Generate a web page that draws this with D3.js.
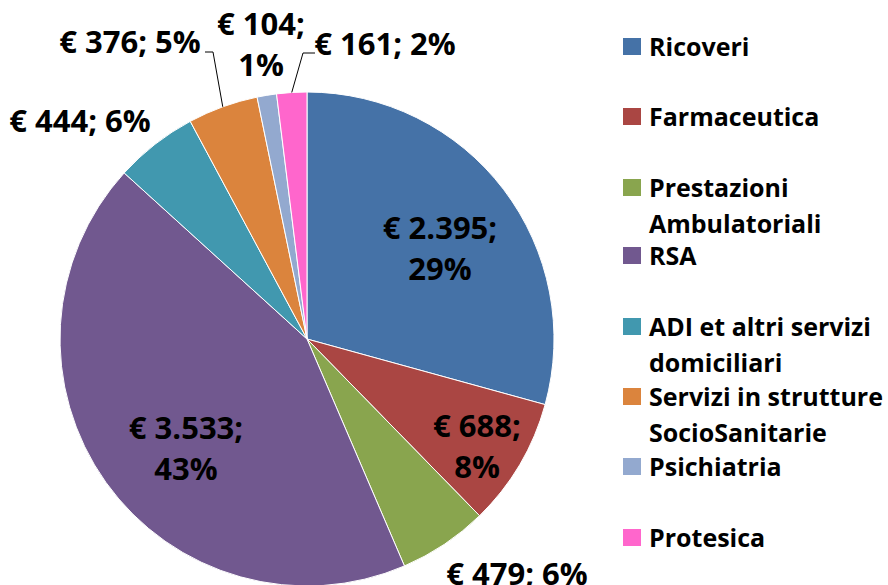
<!DOCTYPE html>
<html>
<head>
<meta charset="utf-8">
<script src="https://cdn.jsdelivr.net/npm/d3@7"></script>
<style>
  body { margin: 0; background: #fff; }
  text { font-family: "Open Sans", sans-serif; font-weight: 700; fill: #000; }
</style>
</head>
<body>
<div id="chart"></div>
<script>
// data
var categories = ["Ricoveri", "Farmaceutica", "Prestazioni Ambulatoriali", "RSA",
    "ADI et altri servizi domiciliari", "Servizi in strutture SocioSanitarie", "Psichiatria", "Protesica"];
var values = [2395, 688, 479, 3533, 444, 376, 104, 161];
var valueLabels = ["€ 2.395;", "€ 688;", "€ 479;", "€ 3.533;", "€ 444;", "€ 376;", "€ 104;", "€ 161;"];
var pctLabels = ["29%", "8%", "6%", "43%", "6%", "5%", "1%", "2%"];
var legendLines = [["Ricoveri"], ["Farmaceutica"], ["Prestazioni", "Ambulatoriali"], ["RSA"],
    ["ADI et altri servizi", "domiciliari"], ["Servizi in strutture", "SocioSanitarie"], ["Psichiatria"], ["Protesica"]];
var colors = ["#4572A7", "#AA4643", "#89A54E", "#71588F", "#4198AF", "#DB843D", "#93A9CF", "#FF66CC"];

var width = 888, height = 585;
var cx = 307, cy = 339, radius = 247;

// label layout: [x, y, one line?]
var labelLayout = [
    [440, 228, false], [477, 426, false], [517, 574, true], [186, 428, false],
    [80, 121, true], [130, 42, true], [261, 24, false], [385, 44, true]
];

var svg = d3.select("#chart")
    .append("svg")
    .attr("width", width)
    .attr("height", height);

var color = d3.scaleOrdinal().domain(categories).range(colors);

var pie = d3.pie().sort(null).value(function (d) { return d; });
var arcs = pie(values);
var arc = d3.arc().innerRadius(0).outerRadius(radius);

var g = svg.append("g").attr("transform", "translate(" + cx + "," + cy + ")");

g.selectAll("path")
    .data(arcs)
    .enter()
    .append("path")
    .attr("d", arc)
    .attr("fill", function (d, i) { return color(categories[i]); })
    .attr("stroke", "#fff")
    .attr("stroke-width", 1);

// leader lines for the two small top slices
function leader(i, hx, hy, tx) {
    var a = (arcs[i].startAngle + arcs[i].endAngle) / 2;
    var px = cx + radius * Math.sin(a), py = cy - radius * Math.cos(a);
    svg.append("polyline")
        .attr("points", [[tx, hy], [hx, hy], [px, py]].map(function (p) { return p.join(","); }).join(" "))
        .attr("fill", "none")
        .attr("stroke", "#000")
        .attr("stroke-width", 1);
}
leader(5, 213, 52, 205);
leader(7, 303, 53, 315);

// data labels
var fs = 31;
labelLayout.forEach(function (l, i) {
    var t = svg.append("text")
        .attr("x", l[0])
        .attr("text-anchor", "middle")
        .style("font-size", fs + "px");
    if (l[2]) {
        t.attr("y", l[1]).attr("dy", "0.35em").text(valueLabels[i] + " " + pctLabels[i]);
    } else {
        t.append("tspan").attr("x", l[0]).attr("y", l[1]).attr("dy", "0.35em").text(valueLabels[i]);
        t.append("tspan").attr("x", l[0]).attr("y", l[1] + 41).attr("dy", "0.35em").text(pctLabels[i]);
    }
});

// legend
var legendY = [47, 117, 188, 256, 327, 397, 467, 538];
var lg = svg.append("g");
legendLines.forEach(function (lines, i) {
    lg.append("rect")
        .attr("x", 623).attr("y", legendY[i] - 9)
        .attr("width", 18).attr("height", 17)
        .attr("fill", colors[i]);
    lines.forEach(function (s, j) {
        lg.append("text")
            .attr("x", 649)
            .attr("y", legendY[i] + j * 36)
            .attr("dy", "0.35em")
            .style("font-size", "25px")
            .text(s);
    });
});
</script>
</body>
</html>
